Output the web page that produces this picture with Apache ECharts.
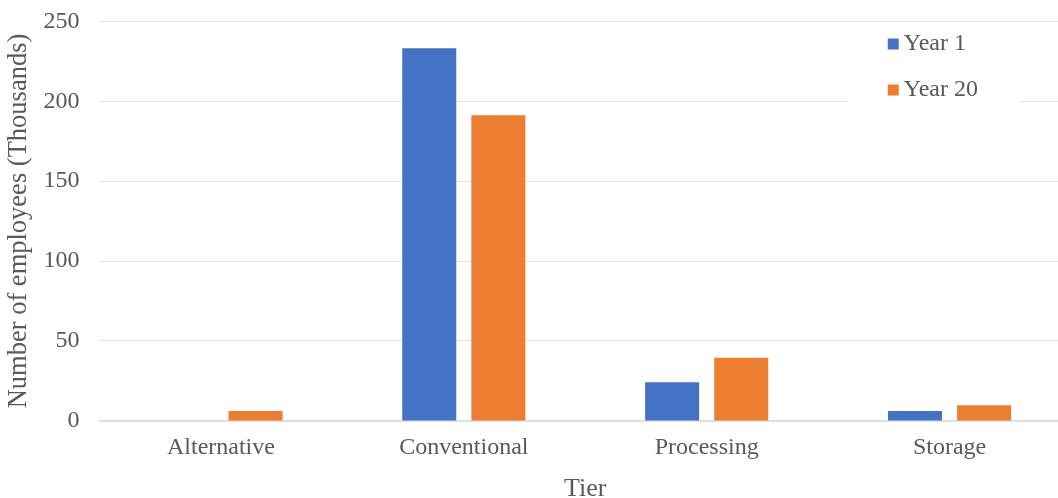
<!DOCTYPE html>
<html><head><meta charset="utf-8">
<script src="https://cdn.jsdelivr.net/npm/echarts@6/dist/echarts.min.js"></script>
<style>html,body{margin:0;padding:0;background:#fff}#c{width:1058px;height:498px}</style>
</head><body><div id="c"></div>
<script>
const categories = ['Alternative', 'Conventional', 'Processing', 'Storage'];
const year1 = [0, 233.2, 24, 6];
const year20 = [6, 191.2, 39.3, 9.5];
const yTicks = [0, 50, 100, 150, 200, 250];
const seriesNames = ['Year 1', 'Year 20'];

const font = 'Liberation Serif, Times New Roman, serif';
const chart = echarts.init(document.getElementById('c'), null, {renderer: 'canvas'});
chart.setOption({
  animation: false,
  backgroundColor: '#fff',
  grid: {left: 99.5, right: -13, top: 21.5, bottom: 77.5, containLabel: false, outerBoundsMode: 'none'},
  legend: {
    orient: 'vertical', right: 38, top: 22,
    backgroundColor: '#fff', padding: [10, 42, 0, 40],
    itemWidth: 11, itemHeight: 11, itemGap: 22, icon: 'rect',
    textStyle: {fontFamily: font, fontSize: 24, color: '#595959'},
    data: seriesNames
  },
  xAxis: {
    type: 'category', data: categories,
    name: 'Tier', nameLocation: 'middle', nameGap: 56,
    nameTextStyle: {fontFamily: font, fontSize: 26, color: '#595959'},
    axisLine: {lineStyle: {color: '#d9d9d9', width: 1.5}},
    axisTick: {show: false},
    axisLabel: {fontFamily: font, fontSize: 24, color: '#595959', margin: 15.5}
  },
  yAxis: {
    type: 'value', min: yTicks[0], max: yTicks[yTicks.length - 1], interval: 50,
    name: 'Number of employees (Thousands)', nameLocation: 'middle', nameGap: 64,
    nameTextStyle: {fontFamily: font, fontSize: 26.5, color: '#595959'},
    axisLine: {show: false}, axisTick: {show: false},
    axisLabel: {fontFamily: font, fontSize: 24, color: '#595959', margin: 20},
    splitLine: {lineStyle: {color: '#e6e6e6', width: 1}}
  },
  series: [
    {name: seriesNames[0], type: 'bar', data: year1, barWidth: 54, barGap: '28%',
     itemStyle: {color: '#4472c4'}},
    {name: seriesNames[1], type: 'bar', data: year20, barWidth: 54, barGap: '28%',
     itemStyle: {color: '#ed7d31'}}
  ]
});
</script></body></html>
